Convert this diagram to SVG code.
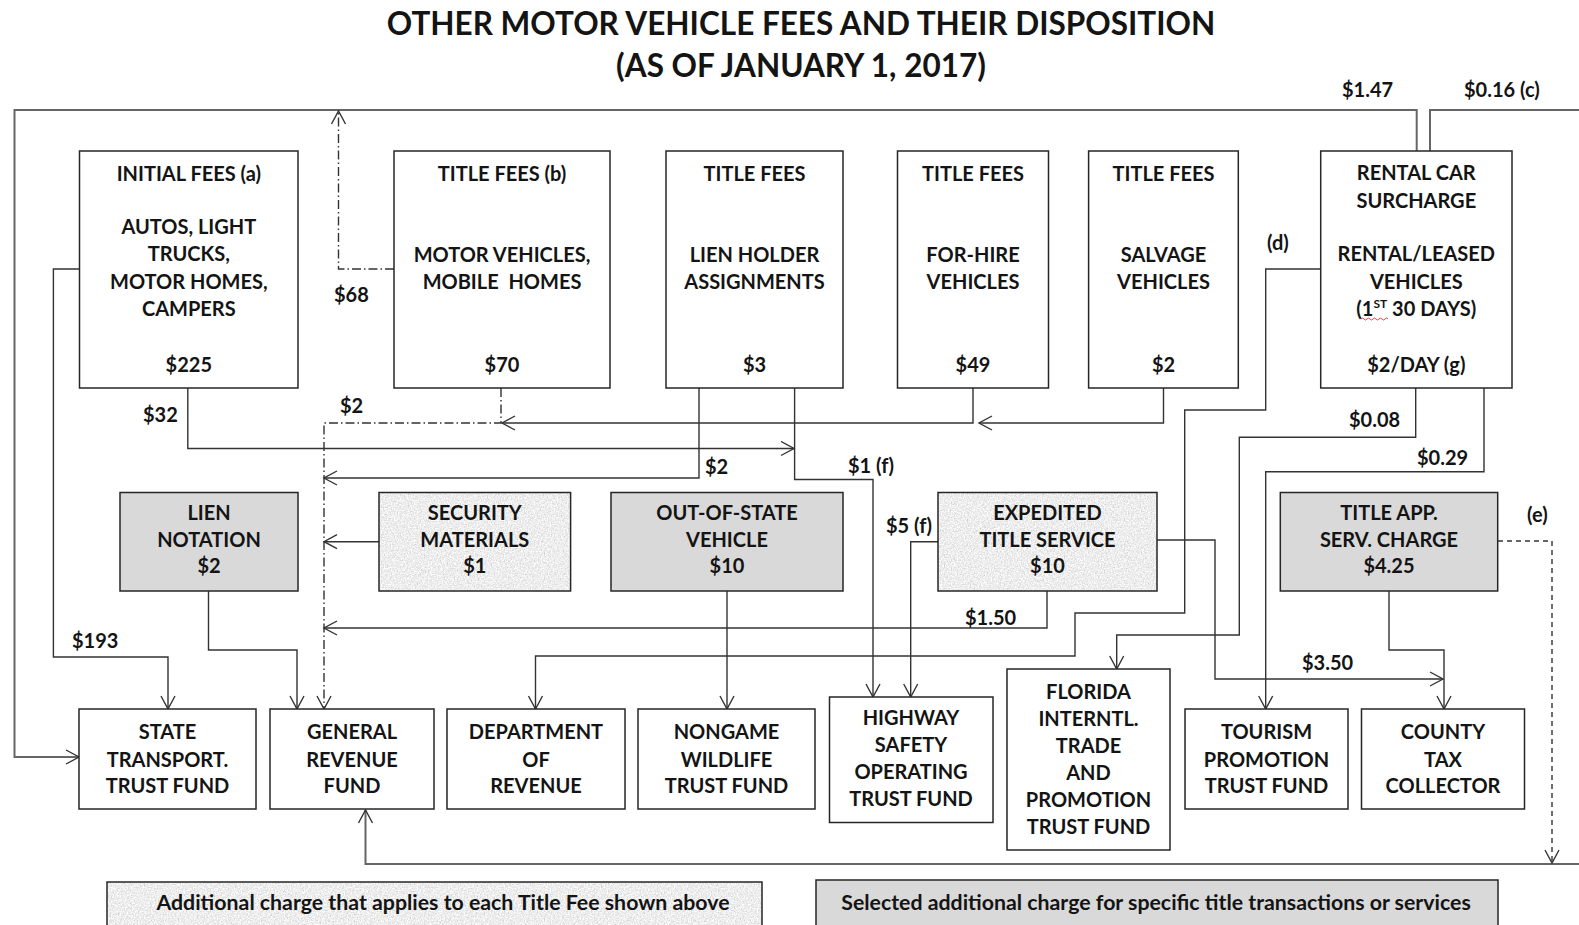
<svg xmlns="http://www.w3.org/2000/svg" width="1579" height="925" viewBox="0 0 1579 925">
<style>
text{font-family:Lato,"Open Sans","Liberation Sans",sans-serif;font-weight:700;fill:#141414;font-size:20px}
.c{text-anchor:middle}
.title{font-size:31.5px}
.leg{font-size:21.3px}
.box{fill:#fff;stroke:#262626;stroke-width:1.5}
.gray{fill:#d9d9d9;stroke:#262626;stroke-width:1.5}
.outline{fill:none;stroke:#262626;stroke-width:1.5}
.tex{fill:#000;stroke:none;filter:url(#speckle)}
.ln{fill:none;stroke:#333;stroke-width:1.4}
.arr{marker-end:url(#ah)}
.outer{fill:none;stroke:#666;stroke-width:2}
.dd{stroke-dasharray:9 3 1.5 3}
.dash{stroke-dasharray:5 4}
</style>
<defs>
<marker id="ah" viewBox="0 0 16 16" refX="14" refY="8" markerWidth="16" markerHeight="16" markerUnits="userSpaceOnUse" orient="auto">
<path d="M1,1 L14,8 L1,15" fill="none" stroke="#333" stroke-width="1.4" stroke-dasharray="none"/>
</marker>
<filter id="speckle" x="0" y="0" width="1" height="1" color-interpolation-filters="sRGB">
<feTurbulence type="fractalNoise" baseFrequency="0.7" numOctaves="3" seed="5" result="n"/>
<feColorMatrix in="n" type="matrix" values="0.18 0.18 0.18 0 0.66  0.18 0.18 0.18 0 0.66  0.18 0.18 0.18 0 0.66  0 0 0 0 1" result="g"/>
<feComposite in="g" in2="SourceGraphic" operator="in"/>
</filter>
</defs>
<rect width="1579" height="925" fill="#fff"/>

<g id="title">
<text class="c title" x="801" y="35">OTHER MOTOR VEHICLE FEES AND THEIR DISPOSITION</text>
<text class="c title" x="801" y="77">(AS OF JANUARY 1, 2017)</text>
</g>

<g id="connectors">
<path class="outer arr" d="M1416.7,151 V110 H14.5 V757 H79"/>
<path class="outer" d="M1430,151 V110 H1579"/>
<path class="outer arr" d="M1579,864 H365.5 V810"/>
<path class="ln arr dd" d="M394,269 H338.5 V111"/>
<path class="ln arr" d="M79.5,269 H53.4 V657 H168 V709"/>
<path class="ln arr" d="M187.8,388 V448.5 H794"/>
<path class="ln arr dd" d="M501,388 V423 H324 V709"/>
<path class="ln arr" d="M973,388 V423 H502"/>
<path class="ln arr" d="M1163.5,388 V423 H979"/>
<path class="ln arr" d="M699,388 V478 H324"/>
<path class="ln arr" d="M794.6,388 V479.5 H873 V697"/>
<path class="ln arr" d="M379,541.7 H324"/>
<path class="ln arr" d="M208.5,591 V650 H297 V709"/>
<path class="ln arr" d="M1047,591 V628 H324"/>
<path class="ln arr" d="M727,591 V709"/>
<path class="ln arr" d="M938,541.7 H910.7 V697"/>
<path class="ln arr" d="M1157,540 H1215 V679 H1443"/>
<path class="ln arr" d="M1389,591 V650 H1444 V709"/>
<path class="ln arr dash" d="M1498,541 H1552 V863"/>
<path class="ln arr" d="M1415.7,388 V437.3 H1239.3 V635 H1116.7 V669"/>
<path class="ln arr" d="M1484,388 V471.7 H1265.7 V709"/>
<path class="ln arr" d="M1320.7,269 H1265.7 V410 H1184.7 V613 H1075 V656 H535.5 V709"/>
</g>

<g id="labels">
<text x="1342" y="97">$1.47</text>
<text x="1464" y="97">$0.16 (c)</text>
<text x="334" y="302">$68</text>
<text x="1267" y="250">(d)</text>
<text x="143" y="422">$32</text>
<text x="340" y="413">$2</text>
<text x="705" y="474">$2</text>
<text x="848" y="473">$1 (f)</text>
<text x="886" y="533">$5 (f)</text>
<text x="1349" y="427">$0.08</text>
<text x="1417" y="465">$0.29</text>
<text x="1527" y="522">(e)</text>
<text x="72" y="648">$193</text>
<text x="965" y="625">$1.50</text>
<text x="1302" y="670">$3.50</text>
</g>

<g id="initial-fees">
<rect class="box" x="79.5" y="151" width="218.5" height="237"/>
<text class="c" x="188.8" y="181">INITIAL FEES (a)</text>
<text class="c" x="188.8" y="234">AUTOS, LIGHT</text>
<text class="c" x="188.8" y="261">TRUCKS,</text>
<text class="c" x="188.8" y="289">MOTOR HOMES,</text>
<text class="c" x="188.8" y="316">CAMPERS</text>
<text class="c" x="188.8" y="371.5">$225</text>
</g>
<g id="title-fees-b">
<rect class="box" x="394" y="151" width="216" height="237"/>
<text class="c" x="502" y="181">TITLE FEES (b)</text>
<text class="c" x="502" y="261.5">MOTOR VEHICLES,</text>
<text class="c" x="502" y="289" xml:space="preserve">MOBILE  HOMES</text>
<text class="c" x="502" y="371.5">$70</text>
</g>
<g id="title-fees-lien">
<rect class="box" x="666" y="151" width="177" height="237"/>
<text class="c" x="754.5" y="181">TITLE FEES</text>
<text class="c" x="754.5" y="261.5">LIEN HOLDER</text>
<text class="c" x="754.5" y="289">ASSIGNMENTS</text>
<text class="c" x="754.5" y="371.5">$3</text>
</g>
<g id="title-fees-forhire">
<rect class="box" x="897.5" y="151" width="151" height="237"/>
<text class="c" x="973" y="181">TITLE FEES</text>
<text class="c" x="973" y="261.5">FOR-HIRE</text>
<text class="c" x="973" y="289">VEHICLES</text>
<text class="c" x="973" y="371.5">$49</text>
</g>
<g id="title-fees-salvage">
<rect class="box" x="1088.6" y="151" width="149.7" height="237"/>
<text class="c" x="1163.5" y="181">TITLE FEES</text>
<text class="c" x="1163.5" y="261.5">SALVAGE</text>
<text class="c" x="1163.5" y="289">VEHICLES</text>
<text class="c" x="1163.5" y="371.5">$2</text>
</g>
<g id="rental-car">
<rect class="box" x="1320.7" y="151" width="191.3" height="237"/>
<text class="c" x="1416.3" y="180">RENTAL CAR</text>
<text class="c" x="1416.3" y="207.5">SURCHARGE</text>
<text class="c" x="1416.3" y="261">RENTAL/LEASED</text>
<text class="c" x="1416.3" y="288.5">VEHICLES</text>
<text class="c" x="1416.3" y="316">(1<tspan font-size="12" dy="-8">ST</tspan><tspan dy="8"> 30 DAYS)</tspan></text>
<path d="M1361,319 q1.5,-2 3,0 t3,0 t3,0 t3,0 t3,0 t3,0 t3,0 t3,0 t3,0" fill="none" stroke="#e03030" stroke-width="0.9"/>
<text class="c" x="1416.3" y="371.5">$2/DAY (g)</text>
</g>

<g id="lien-notation">
<rect class="gray" x="120" y="492.5" width="178" height="98.5"/>
<text class="c" x="209" y="520">LIEN</text>
<text class="c" x="209" y="547">NOTATION</text>
<text class="c" x="209" y="573">$2</text>
</g>
<g id="security-materials">
<rect class="tex" x="379" y="492.5" width="191.6" height="98.5"/>
<rect class="outline" x="379" y="492.5" width="191.6" height="98.5"/>
<text class="c" x="474.8" y="520">SECURITY</text>
<text class="c" x="474.8" y="547">MATERIALS</text>
<text class="c" x="474.8" y="573">$1</text>
</g>
<g id="out-of-state">
<rect class="gray" x="611" y="492.5" width="232" height="98.5"/>
<text class="c" x="727" y="520">OUT-OF-STATE</text>
<text class="c" x="727" y="547">VEHICLE</text>
<text class="c" x="727" y="573">$10</text>
</g>
<g id="expedited">
<rect class="tex" x="938" y="492.5" width="219" height="98.5"/>
<rect class="outline" x="938" y="492.5" width="219" height="98.5"/>
<text class="c" x="1047.5" y="520">EXPEDITED</text>
<text class="c" x="1047.5" y="547">TITLE SERVICE</text>
<text class="c" x="1047.5" y="573">$10</text>
</g>
<g id="title-app">
<rect class="gray" x="1280.3" y="492.5" width="217.4" height="98.5"/>
<text class="c" x="1389" y="520">TITLE APP.</text>
<text class="c" x="1389" y="547">SERV. CHARGE</text>
<text class="c" x="1389" y="573">$4.25</text>
</g>

<g id="state-transport">
<rect class="box" x="79" y="709" width="177" height="100"/>
<text class="c" x="167.5" y="739">STATE</text>
<text class="c" x="167.5" y="766.5">TRANSPORT.</text>
<text class="c" x="167.5" y="792.5">TRUST FUND</text>
</g>
<g id="general-revenue">
<rect class="box" x="270" y="709" width="164" height="100"/>
<text class="c" x="352" y="739">GENERAL</text>
<text class="c" x="352" y="766.5">REVENUE</text>
<text class="c" x="352" y="792.5">FUND</text>
</g>
<g id="dept-revenue">
<rect class="box" x="447" y="709" width="178" height="100"/>
<text class="c" x="536" y="739">DEPARTMENT</text>
<text class="c" x="536" y="766.5">OF</text>
<text class="c" x="536" y="792.5">REVENUE</text>
</g>
<g id="nongame">
<rect class="box" x="638" y="709" width="177" height="100"/>
<text class="c" x="726.5" y="739">NONGAME</text>
<text class="c" x="726.5" y="766.5">WILDLIFE</text>
<text class="c" x="726.5" y="792.5">TRUST FUND</text>
</g>
<g id="highway-safety">
<rect class="box" x="829.5" y="697" width="163.5" height="125.5"/>
<text class="c" x="911" y="724.5">HIGHWAY</text>
<text class="c" x="911" y="751.5">SAFETY</text>
<text class="c" x="911" y="778.5">OPERATING</text>
<text class="c" x="911" y="805.5">TRUST FUND</text>
</g>
<g id="florida-trade">
<rect class="box" x="1007" y="669" width="163" height="181"/>
<text class="c" x="1088.5" y="699">FLORIDA</text>
<text class="c" x="1088.5" y="726">INTERNTL.</text>
<text class="c" x="1088.5" y="752.5">TRADE</text>
<text class="c" x="1088.5" y="779.5">AND</text>
<text class="c" x="1088.5" y="806.5">PROMOTION</text>
<text class="c" x="1088.5" y="833.5">TRUST FUND</text>
</g>
<g id="tourism">
<rect class="box" x="1185" y="709" width="163" height="100"/>
<text class="c" x="1266.5" y="739">TOURISM</text>
<text class="c" x="1266.5" y="766.5">PROMOTION</text>
<text class="c" x="1266.5" y="792.5">TRUST FUND</text>
</g>
<g id="county-tax">
<rect class="box" x="1361.5" y="709" width="163" height="100"/>
<text class="c" x="1443" y="739">COUNTY</text>
<text class="c" x="1443" y="766.5">TAX</text>
<text class="c" x="1443" y="792.5">COLLECTOR</text>
</g>

<g id="legend-additional">
<rect class="tex" x="107" y="882" width="655" height="45"/>
<rect class="outline" x="107" y="882" width="655" height="45"/>
<text class="c leg" x="443" y="910">Additional charge that applies to each Title Fee shown above</text>
</g>
<g id="legend-selected">
<rect class="gray" x="816" y="880" width="682" height="47"/>
<text class="c leg" x="1156" y="909.5">Selected additional charge for specific title transactions or services</text>
</g>
</svg>
